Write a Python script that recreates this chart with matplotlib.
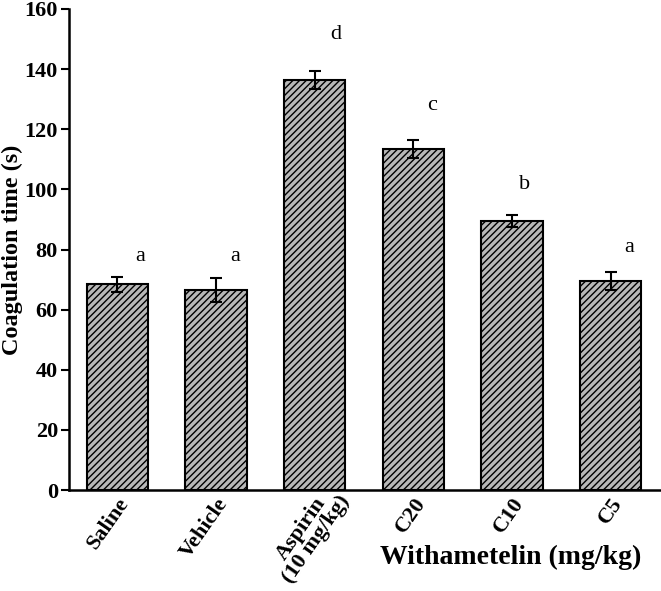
import matplotlib.pyplot as plt
from matplotlib.transforms import ScaledTranslation

groups = ["Saline", "Vehicle", "Aspirin\n(10 mg/kg)", "C20", "C10", "C5"]
means = [68.5, 66.5, 136.5, 113.5, 89.5, 69.5]
errors = [2.5, 4.0, 3.0, 3.0, 2.0, 3.0]
letters = ["a", "a", "d", "c", "b", "a"]
letter_x = [0.23, 1.19, 2.21, 3.19, 4.13, 5.19]
letter_y = [77.8, 77.8, 151.4, 128, 101.5, 80.8]

plt.rcParams['font.family'] = ['Liberation Serif', 'DejaVu Serif']
plt.rcParams['hatch.linewidth'] = 1.0

fig = plt.figure(figsize=(6.61, 5.91), dpi=100)
ax = fig.add_axes([69 / 661, 1 - 490 / 591, (661 - 69) / 661, 481 / 591])

r = range(len(groups))
ax.bar(r, means, width=0.62, color="#b8b8b8", edgecolor="black",
       linewidth=1.5, hatch="/////", yerr=errors,
       error_kw=dict(ecolor="black", elinewidth=1.5, capsize=4, capthick=1.5))

for xi, yi, t in zip(letter_x, letter_y, letters):
    ax.text(xi, yi, t, fontsize=16, ha="center", va="center")

ax.set_xlim(-0.49, 5.51)
ax.set_ylim(0, 160)
ax.set_yticks(range(0, 161, 20))
ax.set_xticks(r)
ax.set_xticklabels(groups, rotation=55, ha="right", rotation_mode="anchor",
                   fontsize=16, fontweight="bold", linespacing=0.88,
                   multialignment="center")
for lab in ax.get_yticklabels():
    lab.set_fontsize(16)
    lab.set_fontweight("bold")
ax.tick_params(axis="y", direction="out", length=6, width=1.5, pad=2)
ax.tick_params(axis="x", length=0, pad=3)

# nudge the two-line label so its first line ends at the tick like the others
asp = ax.get_xticklabels()[2]
asp.set_transform(asp.get_transform() + ScaledTranslation(0.08, 0.13, fig.dpi_scale_trans))

ax.spines["top"].set_visible(False)
ax.spines["right"].set_visible(False)
ax.spines["left"].set_linewidth(1.8)
ax.spines["bottom"].set_linewidth(1.8)

ax.set_ylabel("Coagulation time (s)", fontsize=17.5, fontweight="bold", labelpad=1)
fig.text(511 / 661, 1 - 557 / 591, "Withametelin (mg/kg)", fontsize=20,
         fontweight="bold", ha="center", va="center")

plt.savefig("out.png", dpi=100)
